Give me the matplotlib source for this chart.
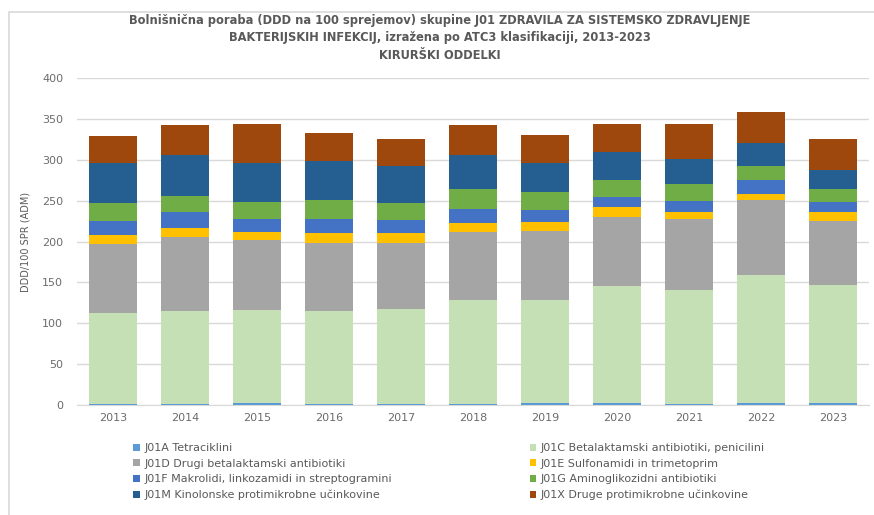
import matplotlib
matplotlib.use("Agg")
import matplotlib.pyplot as plt
from matplotlib.patches import Rectangle
import numpy as np

years = ["2013", "2014", "2015", "2016", "2017", "2018", "2019", "2020", "2021", "2022", "2023"]

series_names = [
    "J01A Tetraciklini",
    "J01C Betalaktamski antibiotiki, penicilini",
    "J01D Drugi betalaktamski antibiotiki",
    "J01E Sulfonamidi in trimetoprim",
    "J01F Makrolidi, linkozamidi in streptogramini",
    "J01G Aminoglikozidni antibiotiki",
    "J01M Kinolonske protimikrobne učinkovine",
    "J01X Druge protimikrobne učinkovine",
]

j01a = [1, 1, 2, 1, 1, 1, 2, 3, 1, 2, 2]
j01c = [111, 114, 114, 114, 116, 127, 126, 142, 140, 157, 145]
j01d = [85, 91, 86, 83, 81.5, 84, 85, 85, 86, 92, 78.5]
j01e = [11, 10, 10, 12, 11.5, 11, 11, 12, 9.6, 7, 10]
j01f = [17.5, 19.5, 16, 17, 16, 17, 15, 13, 13.4, 17, 13.4]
j01g = [21, 20, 20.4, 24, 21.5, 24.5, 22, 20, 20, 17, 15]
j01m = [49, 50, 48, 47, 45, 41, 35.5, 34, 30.5, 28, 24]
j01x = [34, 37, 47, 35, 32.5, 37, 34, 35, 43, 39, 37.5]

colors = ["#5B9BD5", "#C5E0B4", "#A5A5A5", "#FFC000", "#4472C4", "#70AD47", "#255E91", "#9E480E"]

title = ("Bolnišnična poraba (DDD na 100 sprejemov) skupine J01 ZDRAVILA ZA SISTEMSKO ZDRAVLJENJE\n"
         "BAKTERIJSKIH INFEKCIJ, izražena po ATC3 klasifikaciji, 2013-2023\n"
         "KIRURŠKI ODDELKI")
ylabel = "DDD/100 SPR (ADM)"

data = [j01a, j01c, j01d, j01e, j01f, j01g, j01m, j01x]

fig = plt.figure(figsize=(8.74, 5.15), dpi=100)
fig.patch.set_facecolor("white")
# outer chart frame
fig.add_artist(Rectangle((9/874, -0.01), 1.0, (515-12)/515 + 0.01, transform=fig.transFigure,
                         fill=False, edgecolor="#D9D9D9", linewidth=1.2))

ax = fig.add_axes([77/874, 1 - 405/515, (869-77)/874, (405-78)/515])
x = np.arange(len(years))
bottom = np.zeros(len(years))
handles = []
for name, vals, c in zip(series_names, data, colors):
    v = np.array(vals, dtype=float)
    h = ax.bar(x, v, 0.66, bottom=bottom, color=c, label=name, zorder=3)
    handles.append(h)
    bottom += v

ax.set_ylim(0, 400)
ax.set_xlim(-0.5, len(years) - 0.5)
ax.set_yticks(np.arange(0, 401, 50))
ax.set_xticks(x)
ax.set_xticklabels(years)
ax.yaxis.grid(True, color="#D9D9D9", linewidth=1, zorder=0)
for s in ["top", "right", "left"]:
    ax.spines[s].set_visible(False)
ax.spines["bottom"].set_color("#D9D9D9")
ax.tick_params(axis="both", length=0, colors="#6b6b6b", labelsize=8)
ax.tick_params(axis="y", pad=10)
ax.tick_params(axis="x", pad=6)
ax.set_ylabel(ylabel, fontsize=7, color="#595959", labelpad=8)

fig.text(440/874, 1 - 38/515, title, ha="center", va="center", fontsize=8.3,
         fontweight="bold", color="#595959", linespacing=1.45)

order = [0, 2, 4, 6, 1, 3, 5, 7]
leg = fig.legend([handles[i] for i in order], [series_names[i] for i in order],
                 ncol=2, loc="upper left", bbox_to_anchor=(133/874, 1 - 443/515),
                 frameon=False, fontsize=8, handlelength=0.6, handleheight=0.6,
                 handletextpad=0.4, columnspacing=12.4, labelspacing=0.5,
                 borderaxespad=0, borderpad=0)
for t in leg.get_texts():
    t.set_color("#595959")

fig.savefig("out.png", dpi=100, facecolor="white")
